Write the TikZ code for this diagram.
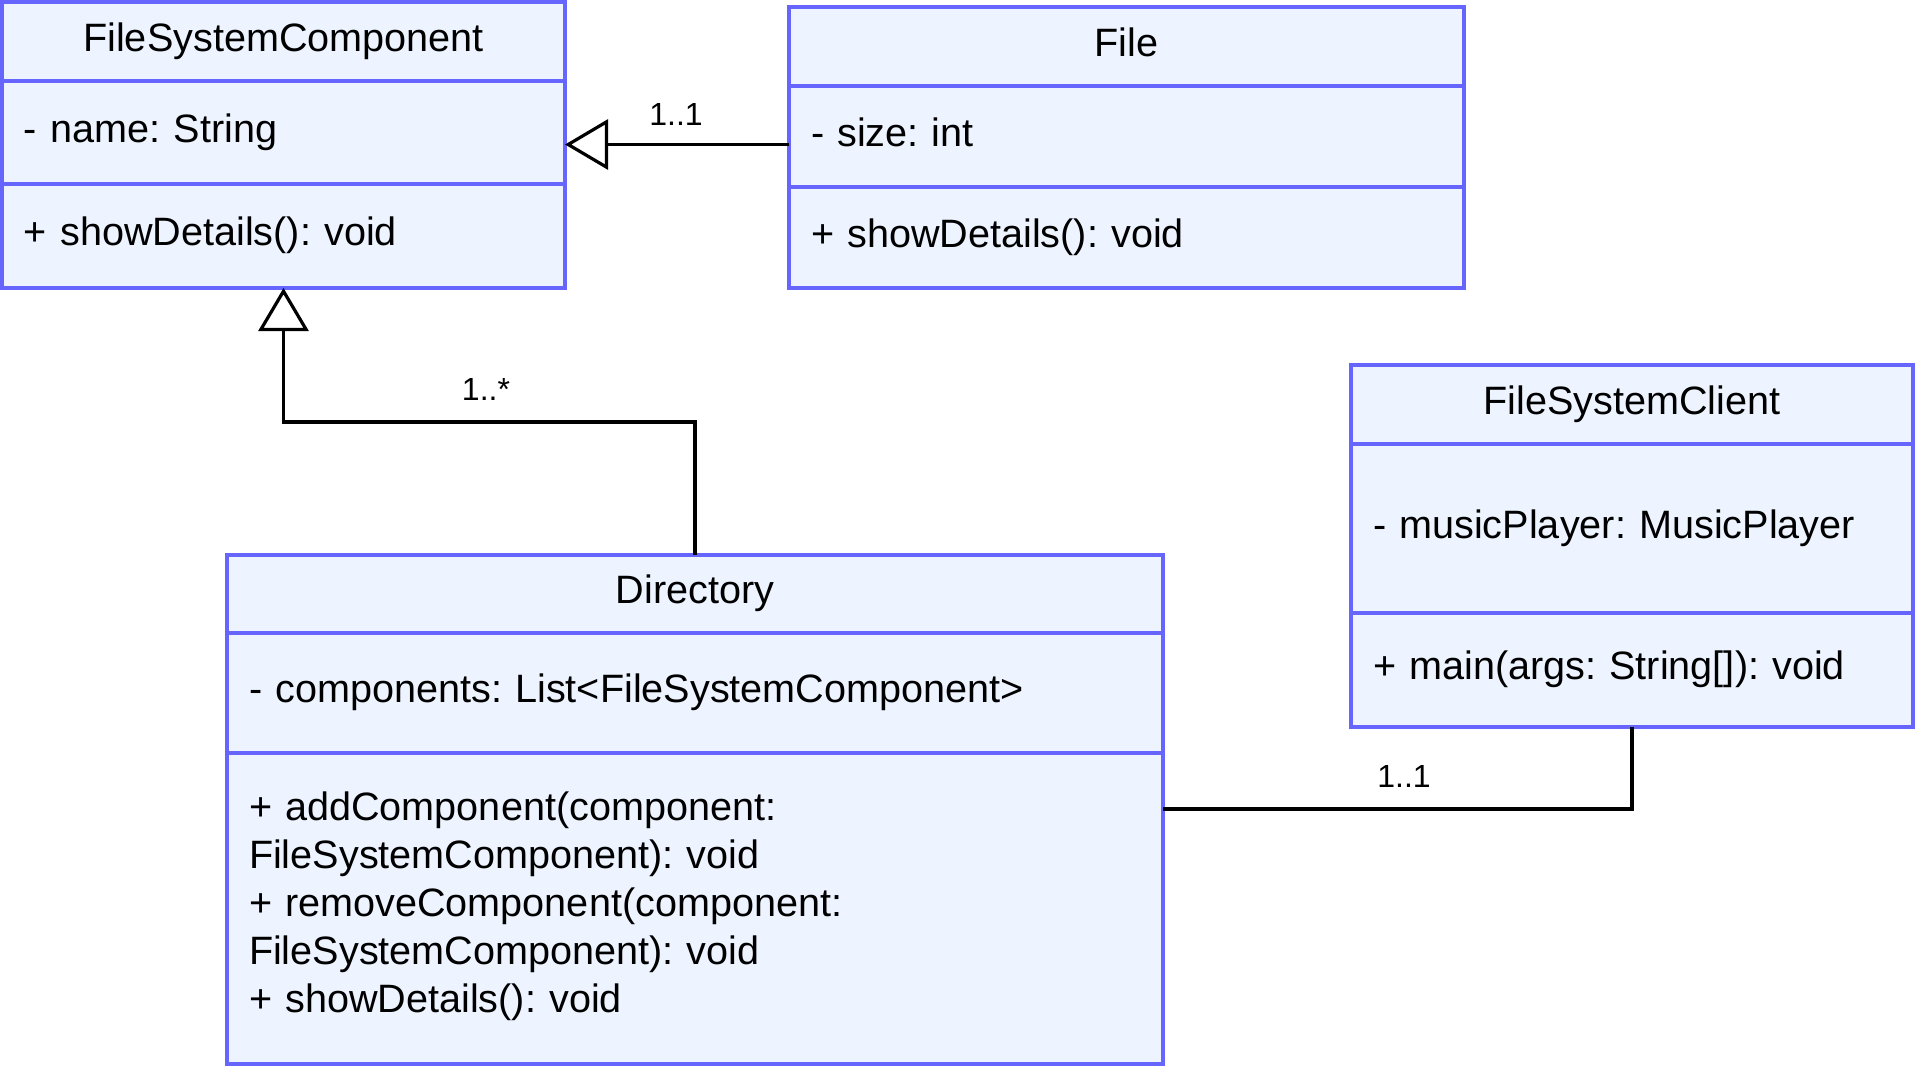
\documentclass[tikz,border=0pt]{standalone}
\usepackage{fontspec}
\setmainfont{Liberation Sans}
\usetikzlibrary{arrows.meta}
\definecolor{umlline}{RGB}{102,102,255}
\definecolor{umlfill}{RGB}{237,244,255}
\frenchspacing

\begin{document}
\begin{tikzpicture}[x=0.5pt,y=-0.5pt,line width=1.6pt]
                \tikzstyle{part}=[rectangle,draw=umlline,fill=umlfill,anchor=north west,outer sep=0pt,inner xsep=11pt,inner ysep=0pt,align=left,font=\fontsize{19.8}{24}\selectfont]
                \tikzstyle{single}=[part,text height=14.2pt,text depth=4.4pt]
                \tikzstyle{head}=[single,align=center]
                \tikzstyle{mult}=[inner sep=0pt,font=\fontsize{16}{19}\selectfont]
                \tikzstyle{gen}=[draw=black,-{Triangle[open,length=21.5pt,width=25pt]}]
                \tikzstyle{assoc}=[draw=black,-]
                \useasboundingbox (0,0) rectangle (1916,1067);

                % FileSystemComponent
                        \node[head,minimum width=281.5pt,text width=259.5pt,minimum height=39.5pt] (fsc-h) at (2,2) {FileSystemComponent};
                        \node[single,minimum width=281.5pt,text width=259.5pt,minimum height=51.5pt] (fsc-a) at (fsc-h.south west) {- name: String};
                        \node[single,minimum width=281.5pt,text width=259.5pt,minimum height=52pt] (fsc-m) at (fsc-a.south west) {+ showDetails(): void};

                % File
                        \node[head,minimum width=337.5pt,text width=315.5pt,minimum height=39.5pt] (file-h) at (789,7) {File};
                        \node[single,minimum width=337.5pt,text width=315.5pt,minimum height=50.5pt] (file-a) at (file-h.south west) {- size: int};
                        \node[single,minimum width=337.5pt,text width=315.5pt,minimum height=50.5pt] (file-m) at (file-a.south west) {+ showDetails(): void};

                % FileSystemClient
                        \node[head,minimum width=281pt,text width=259pt,minimum height=39.5pt] (cli-h) at (1351,365) {FileSystemClient};
                        \node[single,minimum width=281pt,text width=259pt,minimum height=84.5pt] (cli-a) at (cli-h.south west) {- musicPlayer: MusicPlayer};
                        \node[single,minimum width=281pt,text width=259pt,minimum height=57pt] (cli-m) at (cli-a.south west) {+ main(args: String[]): void};

                % Directory
                        \node[head,minimum width=468pt,text width=446pt,minimum height=39pt] (dir-h) at (227,555) {Directory};
                        \node[single,minimum width=468pt,text width=446pt,minimum height=60pt] (dir-a) at (dir-h.south west) {- components: List<FileSystemComponent>};
                        \node[part,minimum width=468pt,text width=446pt,minimum height=155.5pt] (dir-m) at (dir-a.south west) {+ addComponent(component:\\FileSystemComponent): void\\+ removeComponent(component:\\FileSystemComponent): void\\+ showDetails(): void\vspace{2.5pt}};

                % connectors
                        \coordinate (file-in) at ([yshift=-4pt]file-a.west);
                        \coordinate (dir-out) at ([yshift=-28pt]dir-m.north east);
                        \draw[gen] (file-in) -- (file-in -| fsc-a.east);
                        \draw[gen] (dir-h.north) -- ++(0,-133) -| (fsc-m.south);
                        \draw[assoc] (dir-out) -| (cli-m.south);

                        \node[mult] (m-file) at (676,114) {1..1};
                        \node[mult] (m-dir) at (486,389) {1..*};
                        \node[mult] (m-cli) at (1404,776) {1..1};
            \end{tikzpicture}
\end{document}
